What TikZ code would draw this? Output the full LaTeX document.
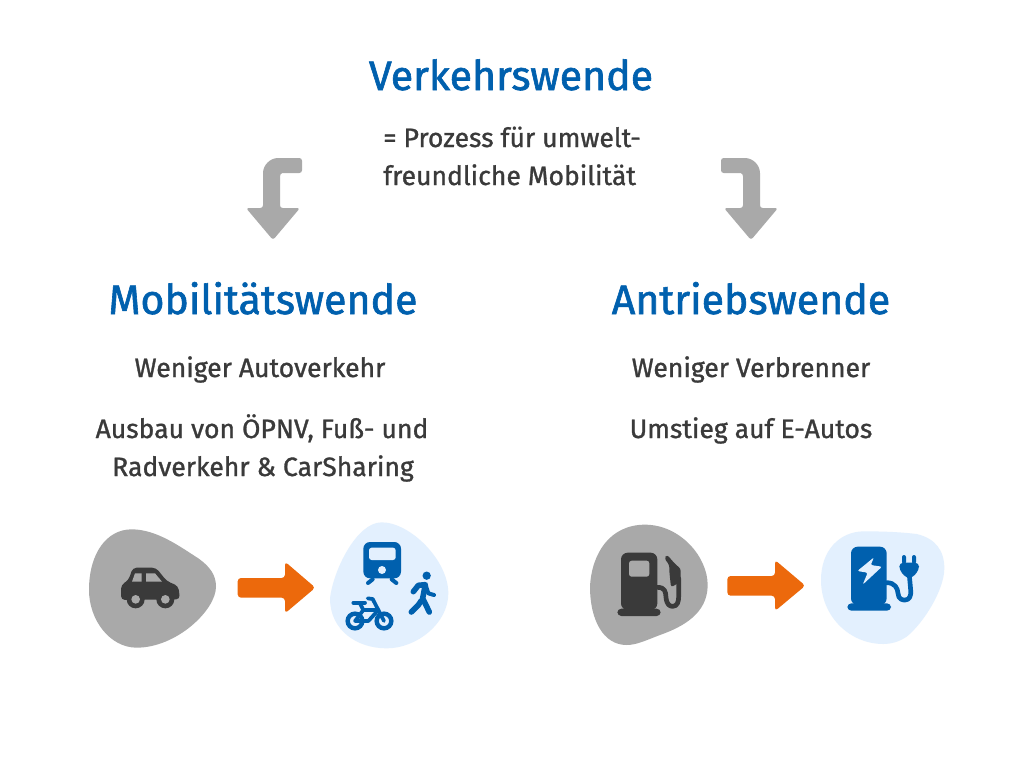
\documentclass[tikz,border=0pt]{standalone}
\usepackage{fontspec}
\setmainfont[FakeBold=1.1]{Fira Sans}
\newfontfamily\headf[FakeBold=1.5]{Fira Sans}
\definecolor{wblue}{HTML}{0060AE}
\definecolor{wtext}{HTML}{3A3A3A}
\definecolor{wgray}{HTML}{A9A9A9}
\definecolor{wlight}{HTML}{E3F0FE}
\definecolor{worange}{HTML}{EC690C}
\tikzset{
  headline/.style={anchor=base,text=wblue,inner sep=0pt,font=\headf\fontsize{30.8}{36}\selectfont},
  bodyline/.style={anchor=base,text=wtext,inner sep=0pt,font=\fontsize{19.9}{24}\selectfont},
  ink/.style={line cap=round,line join=round}
}
\begin{document}
\begin{tikzpicture}[x=0.75pt,y=-0.75pt]
\useasboundingbox (0,0) rectangle (1023,768);
\fill[white] (0,0) rectangle (1023,768);
% texts
\node[headline] (t0) at (511,90) {Verkehrswende};
\node[bodyline,anchor=base west] (p1) at (383,147) {= Prozess für umwelt-};
\node[bodyline,anchor=base west] (p2) at (383,185) {freundliche Mobilität};
\node[headline] (t1) at (263,314) {Mobilitätswende};
\node[headline] (t2) at (751,314) {Antriebswende};
\node[bodyline] (a1) at (260,377) {Weniger Autoverkehr};
\node[bodyline] (a2) at (262,438) {Ausbau von ÖPNV, Fuß- und};
\node[bodyline] (a3) at (263,476) {Radverkehr \& CarSharing};
\node[bodyline] (b1) at (751,377) {Weniger Verbrenner};
\node[bodyline] (b2) at (751,438) {Umstieg auf E-Autos};
% grey arrows
\fill[wgray,rounded corners=2pt] (302,158) -- (302,173) -- (285,173) .. controls (281,173) and (280,175) .. (280,179) -- (280,208) -- (300,208) -- (273,240) -- (246,208) -- (263,208) -- (263,176) .. controls (263,165) and (270,158) .. (281,158) -- cycle;
\fill[wgray,rounded corners=2pt] (721,158) -- (721,173) -- (738,173) .. controls (742,173) and (743,175) .. (743,179) -- (743,208) -- (724,208) -- (751,240) -- (778,208) -- (760,208) -- (760,176) .. controls (760,165) and (753,158) .. (742,158) -- cycle;
% left pair
\begin{scope}[shift={(70,510)},scale=1/3]
\fill[wgray] (57,240) .. controls (57,130) and (110,58) .. (185,58) .. controls (260,58) and (330,110) .. (385,145) .. controls (420,170) and (438,195) .. (438,230) .. controls (438,300) and (320,413) .. (200,413) .. controls (120,413) and (57,330) .. (57,240) -- cycle;
\fill[wlight] (780,265) .. controls (790,180) and (860,37) .. (935,37) .. controls (1020,37) and (1135,150) .. (1135,250) .. controls (1135,340) and (1040,415) .. (950,415) .. controls (860,415) and (780,360) .. (780,265) -- cycle;
\fill[worange,rounded corners=2.5pt] (503,204) -- (645,204) -- (645,155) -- (736,233) -- (645,310) -- (645,263) -- (503,263) -- cycle;
% car
\fill[wtext,rounded corners=3pt] (153,270) -- (153,225) -- (176,210) -- (188,173) -- (258,173) -- (290,213) -- (325,228) -- (330,268) -- cycle;
\fill[wgray] (186,215) -- (195,190) -- (215,190) -- (215,215) -- cycle;
\fill[wgray] (228,215) -- (228,190) -- (255,190) -- (276,215) -- cycle;
\fill[wtext] (197,268) circle (27);
\fill[wtext] (286,268) circle (27);
\fill[wgray] (197,268) circle (13);
\fill[wgray] (286,268) circle (13);
% train
\fill[wblue,rounded corners=5pt] (880,96) rectangle (993,205);
\fill[wlight,rounded corners=2pt] (897,113) rectangle (977,150);
\fill[wlight] (936,180) circle (12);
\draw[wblue,ink,line width=3pt] (908,208) -- (894,219);
\draw[wblue,ink,line width=3pt] (965,208) -- (979,219);
% walker
\fill[wblue] (1070,197) circle (12.5);
\draw[wblue,ink,line width=4.2pt] (1030,245) -- (1045,226) -- (1066,224) -- (1058,265) -- (1078,306);
\draw[wblue,ink,line width=3pt] (1068,228) -- (1075,250) -- (1092,255);
\draw[wblue,ink,line width=4.2pt] (1054,272) -- (1045,285) -- (1024,306);
% bike
\draw[wblue,line width=3.3pt] (855,333) circle (22);
\draw[wblue,line width=3.3pt] (942,333) circle (22);
\draw[wblue,ink,line width=2.8pt] (855,333) -- (880,300) -- (925,300) -- (895,333) -- (855,333);
\draw[wblue,ink,line width=2.8pt] (942,333) -- (908,267) -- (893,265);
\draw[wblue,ink,line width=2.8pt] (880,300) -- (870,280);
\draw[wblue,ink,line width=2.8pt] (850,278) -- (885,278);
\end{scope}
% right pair
\begin{scope}[shift={(570,510)},scale=1/3]
\fill[wgray] (60,230) .. controls (65,130) and (120,44) .. (225,44) .. controls (330,44) and (413,140) .. (413,225) .. controls (413,310) and (340,350) .. (270,375) .. controls (230,390) and (200,405) .. (170,405) .. controls (100,405) and (60,330) .. (60,230) -- cycle;
\fill[wlight] (753,210) .. controls (753,120) and (810,65) .. (880,64) .. controls (940,64) and (990,66) .. (1040,72) .. controls (1095,85) and (1123,120) .. (1123,175) .. controls (1123,240) and (1060,340) .. (1010,380) .. controls (985,397) and (960,402) .. (940,402) .. controls (840,402) and (753,320) .. (753,210) -- cycle;
\fill[worange,rounded corners=2.5pt] (472,198) -- (615,198) -- (615,150) -- (706,227) -- (615,303) -- (615,257) -- (472,257) -- cycle;
% pump
\fill[wtext,rounded corners=5pt] (153,300) -- (153,128) -- (262,128) -- (262,300) -- cycle;
\fill[wtext,rounded corners=3pt] (142,296) rectangle (272,318);
\fill[wgray,rounded corners=2pt] (177,152) rectangle (238,200);
\draw[wtext,line width=3.5pt,ink] (262,232) .. controls (285,232) and (287,245) .. (288,262) .. controls (290,285) and (300,289) .. (308,289) .. controls (322,289) and (326,275) .. (326,260) -- (326,205);
\fill[wtext,rounded corners=2pt] (283,145) -- (291,134) -- (318,165) -- (332,175) -- (332,215) -- (303,232) -- (298,185) -- (298,165) -- cycle;
% charger
\fill[wblue,rounded corners=5pt] (843,285) -- (843,110) -- (950,110) -- (950,285) -- cycle;
\fill[wblue,rounded corners=3pt] (832,280) rectangle (963,302);
\fill[wlight,rounded corners=1.5pt] (912,142) -- (862,183) -- (893,188) -- (878,224) -- (936,170) -- (902,165) -- cycle;
\draw[wblue,line width=3.5pt,ink] (950,218) .. controls (975,218) and (983,235) .. (984,250) .. controls (985,270) and (1000,270) .. (1005,270) .. controls (1018,270) and (1024,258) .. (1022,240) -- (1018,195);
\fill[wblue,rounded corners=3pt] (988,158) -- (1047,158) -- (1047,180) -- (1025,205) -- (1010,205) -- (988,180) -- cycle;
\fill[wblue,rounded corners=1.5pt] (996,135) rectangle (1008,162);
\fill[wblue,rounded corners=1.5pt] (1026,135) rectangle (1038,162);
\end{scope}
\end{tikzpicture}
\end{document}
